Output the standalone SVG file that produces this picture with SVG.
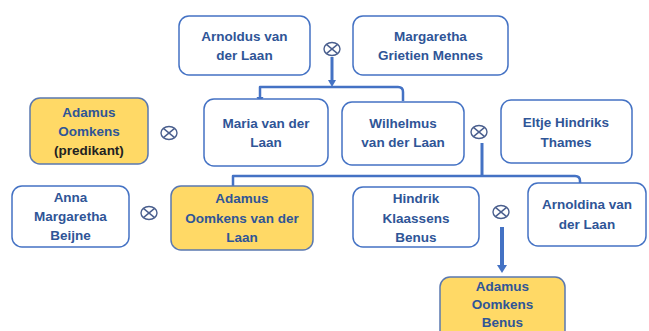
<svg xmlns="http://www.w3.org/2000/svg" width="649" height="331" viewBox="0 0 649 331">
<style>
.box{fill:#ffffff;stroke:#4472C4;stroke-width:1.5}
.hl{fill:#FFD966;stroke:#5A78B0;stroke-width:1.5}
.t{font-family:"Liberation Sans",Arial,sans-serif;font-weight:bold;font-size:13.5px;fill:#2F5597;text-anchor:middle}
.dk{fill:#222222}
.con{fill:none;stroke:#4472C4;stroke-linejoin:round}
.ah{fill:#4472C4}
.mar{fill:none;stroke:#4A5F8E;stroke-width:1.4}
</style>
<defs>
<g id="marry">
<ellipse cx="0" cy="0" rx="8" ry="6.5"/>
<line x1="-5.6" y1="-4.6" x2="5.6" y2="4.6"/>
<line x1="-5.6" y1="4.6" x2="5.6" y2="-4.6"/>
</g>
</defs>
<rect width="649" height="331" fill="#ffffff"/>

<g id="connectors">
<line class="con" x1="332" y1="57" x2="332" y2="81" stroke-width="3"/>
<polygon class="ah" points="328,80 336,80 332,87"/>
<path class="con" d="M260,98 V87 H398 Q403,87 403,92 V101" stroke-width="2.5"/>
<polygon class="ah" points="256.5,97 263.5,97 260,103"/>
<line class="con" x1="482" y1="143" x2="482" y2="176" stroke-width="3"/>
<path class="con" d="M233,188 V176 H575 Q580,176 580,181 V183" stroke-width="2.5"/>
<line class="con" x1="502" y1="227" x2="502" y2="266" stroke-width="4"/>
<polygon class="ah" points="497,265 507,265 502,273"/>
</g>

<g id="marriages" class="mar">
<use href="#marry" x="332" y="49"/>
<use href="#marry" x="169" y="133"/>
<use href="#marry" x="479" y="132"/>
<use href="#marry" x="149" y="213"/>
<use href="#marry" x="501" y="212"/>
</g>

<g id="arnoldus">
<rect class="box" x="179" y="16" width="131" height="59" rx="10"/>
<text class="t" x="244.5" y="41">Arnoldus van</text>
<text class="t" x="244.5" y="60">der Laan</text>
</g>
<g id="margaretha">
<rect class="box" x="353" y="16" width="155" height="59" rx="10"/>
<text class="t" x="430.5" y="41">Margaretha</text>
<text class="t" x="430.5" y="60">Grietien Mennes</text>
</g>
<g id="adamus-predikant">
<rect class="hl" x="30" y="98" width="118" height="66" rx="10"/>
<text class="t" x="89" y="117">Adamus</text>
<text class="t" x="89" y="136">Oomkens</text>
<text class="t dk" x="89" y="155">(predikant)</text>
</g>
<g id="maria">
<rect class="box" x="204" y="99" width="124" height="67" rx="10"/>
<text class="t" x="266" y="128">Maria van der</text>
<text class="t" x="266" y="147">Laan</text>
</g>
<g id="wilhelmus">
<rect class="box" x="342" y="102" width="122" height="63" rx="10"/>
<text class="t" x="403" y="128">Wilhelmus</text>
<text class="t" x="403" y="147">van der Laan</text>
</g>
<g id="eltje">
<rect class="box" x="501" y="100" width="131" height="63" rx="10"/>
<text class="t" x="566" y="127">Eltje Hindriks</text>
<text class="t" x="566" y="147">Thames</text>
</g>
<g id="anna">
<rect class="box" x="12" y="186" width="117" height="61" rx="10"/>
<text class="t" x="70.5" y="202">Anna</text>
<text class="t" x="70.5" y="221">Margaretha</text>
<text class="t" x="70.5" y="240">Beijne</text>
</g>
<g id="adamus-vdl">
<rect class="hl" x="171" y="186" width="142" height="64" rx="10"/>
<text class="t" x="242" y="203">Adamus</text>
<text class="t" x="242" y="223">Oomkens van der</text>
<text class="t" x="242" y="242">Laan</text>
</g>
<g id="hindrik">
<rect class="box" x="353" y="187" width="126" height="60" rx="10"/>
<text class="t" x="416" y="203">Hindrik</text>
<text class="t" x="416" y="223">Klaassens</text>
<text class="t" x="416" y="242">Benus</text>
</g>
<g id="arnoldina">
<rect class="box" x="528" y="183" width="118" height="63" rx="10"/>
<text class="t" x="587" y="209">Arnoldina van</text>
<text class="t" x="587" y="229">der Laan</text>
</g>
<g id="adamus-benus">
<rect class="hl" x="440" y="277" width="125" height="68" rx="10"/>
<text class="t" x="502.5" y="291">Adamus</text>
<text class="t" x="502.5" y="309">Oomkens</text>
<text class="t" x="502.5" y="327">Benus</text>
</g>
</svg>
